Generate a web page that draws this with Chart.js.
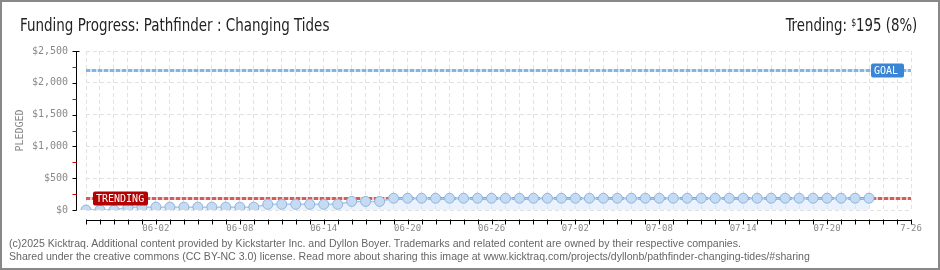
<!DOCTYPE html>
<html lang="en">
<head>
<meta charset="UTF-8">
<title>Funding Progress: Pathfinder : Changing Tides</title>
<script src="https://cdn.jsdelivr.net/npm/chart.js"></script>
<style>
    body { margin: 0; background: #fff; }
    #wrap { position: relative; width: 940px; height: 270px; overflow: hidden; background: #fff; }
    #frame { position: absolute; left: 0; top: 0; width: 940px; height: 270px; box-sizing: border-box; border: 2px solid #888; pointer-events: none; }
    canvas { position: absolute; left: 0; top: 0; }
    .title, .trend { position: absolute; font-family: "Liberation Sans Narrow", "DejaVu Sans Condensed", sans-serif; font-size: 17px; line-height: 17px; color: #222; white-space: nowrap; }
    .title { left: 20px; top: 17px; transform: scaleX(0.88); transform-origin: left center; }
    .trend { right: 23px; top: 14px; transform: scaleX(0.87); transform-origin: right center; }
    .trend sup { font-size: 10px; vertical-align: 5px; }
    .foot { position: absolute; left: 9px; font-family: "Liberation Sans Narrow", sans-serif; font-size: 11px; line-height: 11px; color: #666; white-space: nowrap; transform: scaleX(0.96); transform-origin: left center; }
</style>
</head>
<body>
<div id="wrap">
    <canvas id="chart" width="940" height="270"></canvas>
    <div class="title">Funding Progress: Pathfinder : Changing Tides</div>
    <div class="trend">Trending: <sup>$</sup>195 (8%)</div>
    <div class="foot" style="top:238px;">(c)2025 Kicktraq. Additional content provided by Kickstarter Inc. and Dyllon Boyer. Trademarks and related content are owned by their respective companies.</div>
    <div class="foot" style="top:251px;">Shared under the creative commons (CC BY-NC 3.0) license. Read more about sharing this image at www.kicktraq.com/projects/dyllonb/pathfinder-changing-tides/#sharing</div>
    <div id="frame"></div>
</div>
<script>
// days on the x axis
const dates = [
    '05-28', '05-29', '05-30', '05-31',
    '06-01', '06-02', '06-03', '06-04', '06-05', '06-06', '06-07', '06-08', '06-09', '06-10',
    '06-11', '06-12', '06-13', '06-14', '06-15', '06-16', '06-17', '06-18', '06-19', '06-20',
    '06-21', '06-22', '06-23', '06-24', '06-25', '06-26', '06-27', '06-28', '06-29', '06-30',
    '07-01', '07-02', '07-03', '07-04', '07-05', '07-06', '07-07', '07-08', '07-09', '07-10',
    '07-11', '07-12', '07-13', '07-14', '07-15', '07-16', '07-17', '07-18', '07-19', '07-20',
    '07-21', '07-22', '07-23', '07-24', '07-25', '07-26'
];

// cumulative pledged ($) per day
const pledged = [
    0, 0, 0,
    45, 45, 45, 45, 45, 45, 45, 45, 45, 45,
    90, 90, 90, 90, 90, 90,
    135, 135, 135,
    185, 185, 185, 185, 185, 185, 185, 185, 185, 185,
    185, 185, 185, 185, 185, 185, 185, 185, 185, 185,
    185, 185, 185, 185, 185, 185, 185, 185, 185, 185,
    185, 185, 185, 185, 185,
    null, null, null
];

// labelled days and the text shown under them
const tickDates = ['06-02', '06-08', '06-14', '06-20', '06-26', '07-02', '07-08', '07-14', '07-20', '07-26'];
const tickTexts = ['06-02', '06-08', '06-14', '06-20', '06-26', '07-02', '07-08', '07-14', '07-20', '7-26'];

const yTicks = [0, 500, 1000, 1500, 2000, 2500];
const GOAL = 2200;
const TRENDING = 195;

const monoFont = '"DejaVu Sans Mono", monospace';

function refLine(ctx, area, yy, light, dark) {
    ctx.save();
    ctx.lineWidth = 3;
    ctx.strokeStyle = light;
    ctx.beginPath();
    ctx.moveTo(area.left, yy);
    ctx.lineTo(area.right, yy);
    ctx.stroke();
    ctx.setLineDash([4, 2]);
    ctx.strokeStyle = dark;
    ctx.beginPath();
    ctx.moveTo(area.left, yy);
    ctx.lineTo(area.right, yy);
    ctx.stroke();
    ctx.restore();
}

function tag(ctx, x, yy, w, text, bg) {
    ctx.save();
    ctx.fillStyle = bg;
    ctx.beginPath();
    ctx.roundRect(x, yy - 7, w, 14, 2);
    ctx.fill();
    ctx.fillStyle = '#fff';
    ctx.font = '10px ' + monoFont;
    ctx.textBaseline = 'middle';
    ctx.textAlign = 'left';
    ctx.fillText(text, x + 3, yy + 0.5);
    ctx.restore();
}

const decor = {
    id: 'decor',
    beforeDatasetsDraw(chart) {
        const { ctx, chartArea: a, scales: { y } } = chart;
        refLine(ctx, a, Math.round(y.getPixelForValue(GOAL)) + 0.5, '#d2e4f7', '#82b4e6');
        refLine(ctx, a, Math.round(y.getPixelForValue(TRENDING)) + 0.5, '#f2caca', '#d65b5b');
    },
    afterDatasetsDraw(chart) {
        const { ctx, chartArea: a, scales: { y } } = chart;
        tag(ctx, a.right - 40, Math.round(y.getPixelForValue(GOAL)) + 0.5, 33, 'GOAL', '#3a86d6');
        tag(ctx, a.left + 7, Math.round(y.getPixelForValue(TRENDING)) + 0.5, 55, 'TRENDING', '#b30000');
    },
    afterDraw(chart) {
        const { ctx, chartArea: a, scales: { x, y } } = chart;
        ctx.save();
        ctx.lineWidth = 1;
        // y axis
        const ax = a.left - 9.5;
        ctx.strokeStyle = '#000';
        ctx.beginPath();
        ctx.moveTo(ax, y.getPixelForValue(2500));
        ctx.lineTo(ax, y.getPixelForValue(0) + 0.5);
        ctx.stroke();
        yTicks.forEach(v => {
            const py = Math.round(y.getPixelForValue(v)) + 0.5;
            ctx.beginPath();
            ctx.moveTo(ax - 4, py);
            ctx.lineTo(v === 2500 ? ax + 3 : ax, py);
            ctx.stroke();
        });
        ctx.strokeStyle = '#e00000';
        for (let v = 250; v < 2500; v += 500) {
            const py = Math.round(y.getPixelForValue(v)) + 0.5;
            ctx.beginPath();
            ctx.moveTo(ax - 4, py);
            ctx.lineTo(ax, py);
            ctx.stroke();
        }
        // x axis
        const by = Math.round(a.bottom) + 10.5;
        ctx.strokeStyle = '#000';
        ctx.beginPath();
        ctx.moveTo(x.getPixelForValue(0), by);
        ctx.lineTo(x.getPixelForValue(dates.length - 1), by);
        ctx.stroke();
        dates.forEach((d, i) => {
            const px = Math.round(x.getPixelForValue(i)) + 0.5;
            ctx.beginPath();
            ctx.moveTo(px, by - 1);
            ctx.lineTo(px, by + 4);
            ctx.stroke();
        });
        ctx.restore();
    }
};

new Chart(document.getElementById('chart'), {
    type: 'line',
    data: {
        labels: dates,
        datasets: [{
            label: 'Pledged',
            data: pledged,
            borderColor: '#a9c9ec',
            borderWidth: 1.5,
            backgroundColor: 'rgba(214, 232, 251, 0.5)',
            fill: 'origin',
            pointRadius: 5,
            pointBackgroundColor: '#c4dbf3',
            pointBorderColor: '#90b3db',
            pointBorderWidth: 1,
            tension: 0
        }]
    },
    options: {
        responsive: false,
        animation: false,
        devicePixelRatio: 1,
        layout: { padding: { top: 51, right: 29, bottom: 0, left: 0 } },
        plugins: { legend: { display: false }, tooltip: { enabled: false } },
        scales: {
            x: {
                offset: false,
                afterFit(scale) { scale.height = 60; },
                grid: { color: '#e2e2e2', drawTicks: false },
                border: { display: false, dash: [4, 3] },
                ticks: {
                    autoSkip: false,
                    maxRotation: 0,
                    padding: 13,
                    color: '#888',
                    font: { family: monoFont, size: 9 },
                    callback(v, i) {
                        const k = tickDates.indexOf(dates[i]);
                        return k >= 0 ? tickTexts[k] : '';
                    }
                }
            },
            y: {
                min: 0,
                max: 2500,
                afterFit(scale) { scale.width = 86; },
                grid: { color: '#e2e2e2', drawTicks: false },
                border: { display: false, dash: [4, 3] },
                ticks: {
                    stepSize: 500,
                    padding: 18,
                    color: '#888',
                    font: { family: monoFont, size: 10 },
                    callback: v => '$' + v.toLocaleString('en-US')
                },
                title: {
                    display: true,
                    text: 'PLEDGED',
                    color: '#888',
                    font: { family: monoFont, size: 10 },
                    padding: { top: 14, bottom: 0 }
                }
            }
        }
    },
    plugins: [decor]
});
</script>
</body>
</html>
